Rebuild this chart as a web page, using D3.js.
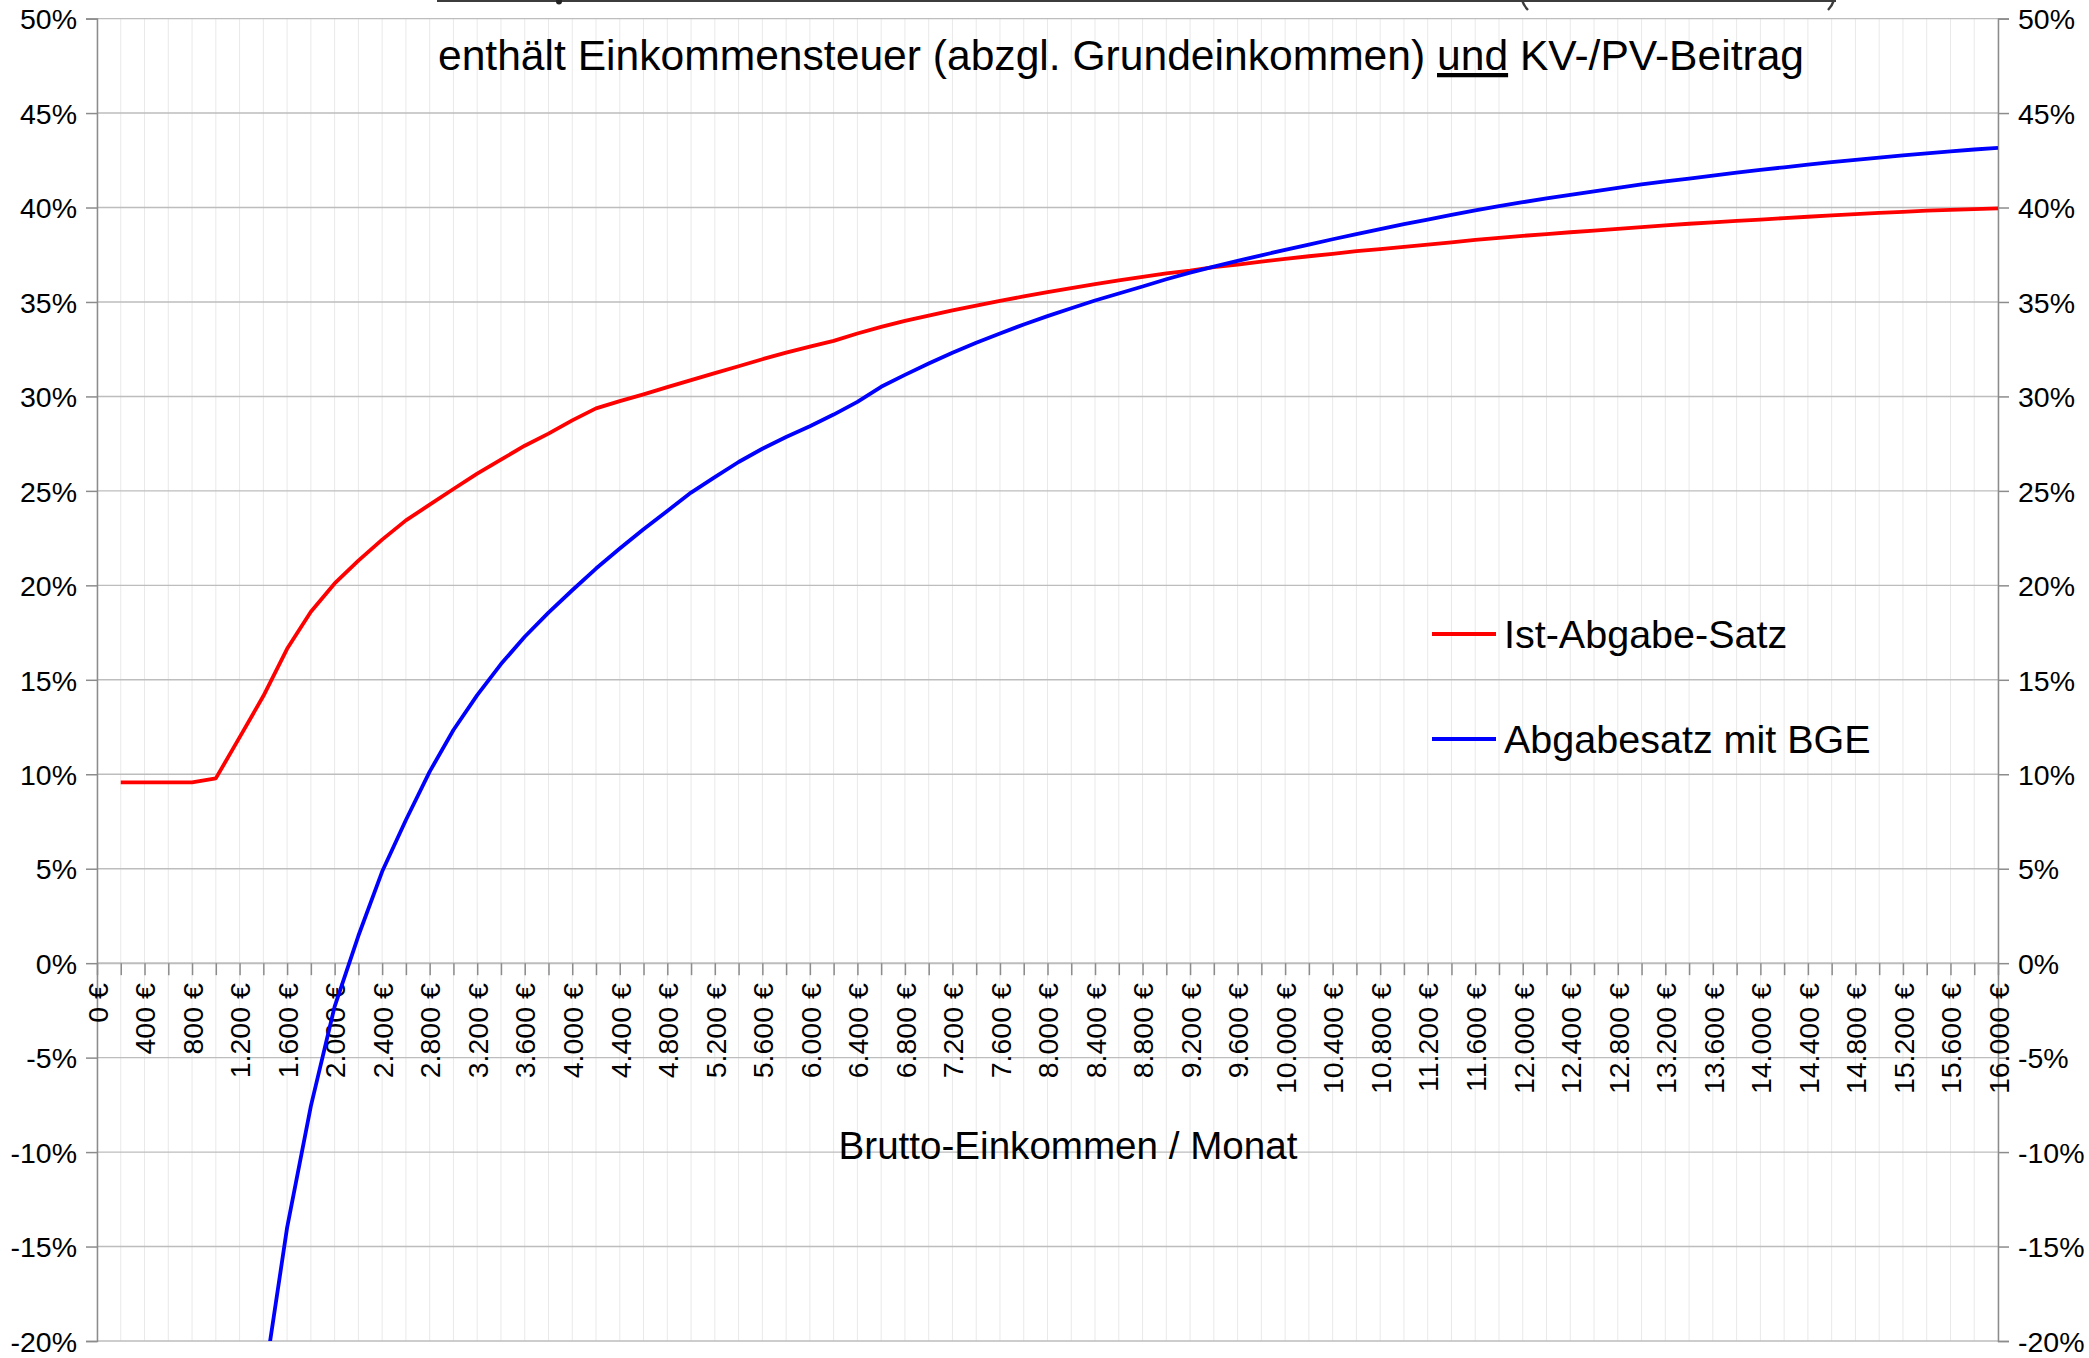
<!DOCTYPE html>
<html>
<head>
<meta charset="utf-8">
<script src="https://cdn.jsdelivr.net/npm/d3@7"></script>
<style>
html,body{margin:0;padding:0;background:#fff;}
svg{display:block;}
text{font-family:"Liberation Sans",Arial,sans-serif;fill:#000;}
</style>
</head>
<body>
<svg id="chart" width="2089" height="1358"></svg>
<script>
// ---- data ----
const incomes = [200,400,600,800,1000,1200,1400,1600,1800,2000,2200,2400,2600,2800,3000,3200,3400,3600,3800,4000,
  4200,4400,4600,4800,5000,5200,5400,5600,5800,6000,6200,6400,6600,6800,7000,7200,7400,7600,7800,8000,
  8200,8400,8600,8800,9000,9200,9400,9600,9800,10000,10200,10400,10600,10800,11000,11200,11400,11600,11800,12000,
  12200,12400,12600,12800,13000,13200,13400,13600,13800,14000,14200,14400,14600,14800,15000,15200,15400,15600,15800,16000];

const istAbgabeSatz = [9.57,9.57,9.57,9.57,9.78,11.95,14.14,16.64,18.60,20.10,21.31,22.42,23.44,24.27,25.10,25.91,26.65,27.39,28.03,28.73,
  29.37,29.75,30.11,30.49,30.86,31.23,31.60,31.97,32.32,32.64,32.94,33.33,33.68,34.00,34.28,34.55,34.81,35.06,35.29,35.52,
  35.73,35.94,36.14,36.33,36.51,36.66,36.84,36.98,37.14,37.28,37.42,37.55,37.69,37.80,37.92,38.04,38.16,38.29,38.39,38.50,
  38.59,38.69,38.78,38.87,38.96,39.05,39.14,39.21,39.29,39.36,39.44,39.51,39.58,39.65,39.72,39.77,39.84,39.88,39.92,39.95];

const abgabesatzBGE = [null,null,null,null,null,null,-22.4,-14.0,-7.57,-2.3,1.45,4.85,7.58,10.14,12.34,14.19,15.83,17.28,18.56,19.74,
  20.89,21.95,22.97,23.94,24.91,25.73,26.53,27.23,27.85,28.42,29.04,29.71,30.51,31.14,31.74,32.31,32.84,33.33,33.81,34.25,
  34.67,35.08,35.45,35.82,36.20,36.55,36.87,37.18,37.47,37.76,38.04,38.32,38.59,38.86,39.12,39.36,39.61,39.85,40.07,40.28,
  40.48,40.67,40.86,41.04,41.22,41.38,41.53,41.69,41.85,41.99,42.13,42.27,42.40,42.52,42.64,42.76,42.87,42.97,43.07,43.16];

const seriesNames = ["Ist-Abgabe-Satz","Abgabesatz mit BGE"];
const yTicks = [-20,-15,-10,-5,0,5,10,15,20,25,30,35,40,45,50];
const xLabelTicks = [0,400,800,1200,1600,2000,2400,2800,3200,3600,4000,4400,4800,5200,5600,6000,6400,6800,7200,7600,
  8000,8400,8800,9200,9600,10000,10400,10800,11200,11600,12000,12400,12800,13200,13600,14000,14400,14800,15200,15600,16000];
const xMinorTicks = [0].concat(incomes);
const titleParts = ["enthält Einkommensteuer (abzgl. Grundeinkommen) ","und"," KV-/PV-Beitrag"];
const xAxisTitle = "Brutto-Einkommen / Monat";

// ---- layout ----
const L = 97, R = 1998, T = 18.6, B = 1341;
const svg = d3.select("#chart");
const x = d3.scaleLinear().domain([0,16000]).range([L,R]);
const y = d3.scaleLinear().domain([-20,50]).range([B,T]);

const de = d3.formatLocale({decimal:",",thousands:".",grouping:[3],currency:["","\u00a0€"]});
const fmtEuro = v => de.format(",.0f")(v) + " €";

// gridlines
const grid = svg.append("g");
grid.selectAll("line.v").data(xMinorTicks).join("line")
  .attr("x1", d=>x(d)).attr("x2", d=>x(d)).attr("y1", T).attr("y2", B)
  .attr("stroke","#e9e9e9").attr("stroke-width",1);
grid.selectAll("line.h").data(yTicks).join("line")
  .attr("x1", L).attr("x2", R).attr("y1", d=>y(d)).attr("y2", d=>y(d))
  .attr("stroke", "#bdbdbd").attr("stroke-width", d=> d===0 ? 2 : 1.4);

// axes
const axisColor = "#8c8c8c";
const yLeft = svg.append("g").attr("transform",`translate(${L},0)`)
  .call(d3.axisLeft(y).tickValues(yTicks).tickSize(11).tickPadding(9).tickFormat(d=>d+"%"));
const yRight = svg.append("g").attr("transform",`translate(${R},0)`)
  .call(d3.axisRight(y).tickValues(yTicks).tickSize(11).tickPadding(9).tickFormat(d=>d+"%"));
[yLeft,yRight].forEach(g=>{
  g.select(".domain").attr("stroke",axisColor).attr("stroke-width",1.5);
  g.selectAll(".tick line").attr("stroke",axisColor).attr("stroke-width",1.5);
  g.selectAll("text").style("font-size","28.5px").attr("dy","0.36em")
   .style("font-family","'Liberation Sans',Arial,sans-serif").attr("fill","#000");
});

const xAxis = svg.append("g").attr("transform",`translate(0,${y(0)})`)
  .call(d3.axisBottom(x).tickValues(xMinorTicks.filter(d=>d<=16000)).tickSize(12)
    .tickFormat(d => xLabelTicks.includes(d) ? fmtEuro(d) : ""));
xAxis.select(".domain").remove();
xAxis.selectAll(".tick line").attr("stroke",axisColor).attr("stroke-width",1.5);
xAxis.selectAll("text")
  .attr("transform","rotate(-90)").attr("x",-20).attr("y",0).attr("dy","0.36em")
  .style("text-anchor","end").style("font-size","28.5px")
  .style("font-family","'Liberation Sans',Arial,sans-serif").attr("fill","#000");

// lines
svg.append("clipPath").attr("id","plotclip").append("rect")
  .attr("x",L).attr("y",T).attr("width",R-L).attr("height",B-T);
const line = d3.line().defined(d=>d[1]!==null).x(d=>x(d[0])).y(d=>y(d[1]));
const plot = svg.append("g").attr("clip-path","url(#plotclip)");
plot.append("path").datum(incomes.map((v,i)=>[v,istAbgabeSatz[i]]))
  .attr("d",line).attr("fill","none").attr("stroke","#ff0000").attr("stroke-width",3.8).attr("stroke-linejoin","round");
plot.append("path").datum(incomes.map((v,i)=>[v,abgabesatzBGE[i]]))
  .attr("d",line).attr("fill","none").attr("stroke","#0000ff").attr("stroke-width",3.8).attr("stroke-linejoin","round");

// cut-off first title line at top (only its underline and descender bits are visible)
const cut = svg.append("g").attr("stroke","#3c3c3c").attr("fill","none");
cut.append("line").attr("x1",437).attr("x2",1836).attr("y1",1).attr("y2",1).attr("stroke-width",2.2);
cut.append("circle").attr("cx",559).attr("cy",1.5).attr("r",3).attr("fill","#222").attr("stroke","none");
cut.append("path").attr("d","M1522,0 Q1524,6 1528,10").attr("stroke-width",2.4);
cut.append("path").attr("d","M1834,0 Q1832,6 1828,10").attr("stroke-width",2.4);

// title
const title = svg.append("text").attr("x",1121).attr("y",70).attr("text-anchor","middle")
  .style("font-size","42.6px");
title.append("tspan").text(titleParts[0]);
title.append("tspan").text(titleParts[1]).style("text-decoration","underline");
title.append("tspan").text(titleParts[2]);

// x axis title
svg.append("text").attr("x",1068).attr("y",1159).attr("text-anchor","middle")
  .style("font-size","38.6px").text(xAxisTitle);

// legend
const legY = [634, 739];
const legColors = ["#ff0000","#0000ff"];
const leg = svg.append("g");
seriesNames.forEach((n,i)=>{
  leg.append("line").attr("x1",1432).attr("x2",1496).attr("y1",legY[i]).attr("y2",legY[i])
    .attr("stroke",legColors[i]).attr("stroke-width",4.2);
  leg.append("text").attr("x",1504).attr("y",legY[i]+14).style("font-size","39.5px").text(n);
});
</script>
</body>
</html>
